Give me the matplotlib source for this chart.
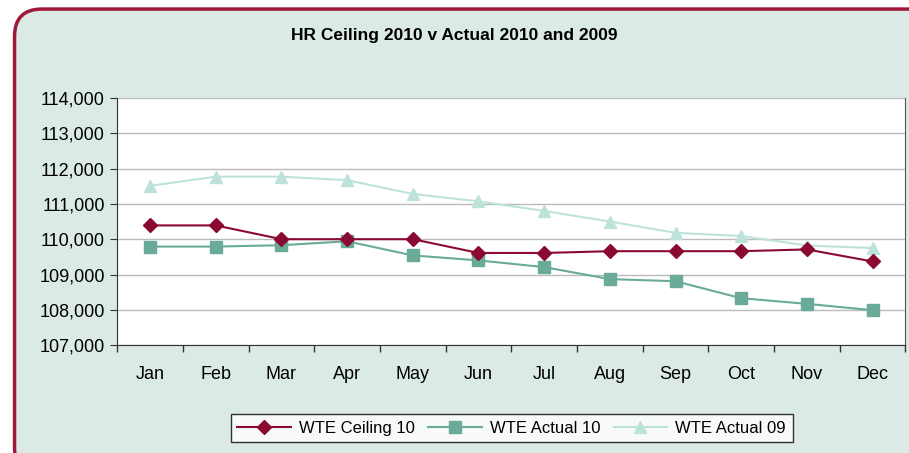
import matplotlib.pyplot as plt
from matplotlib.patches import FancyBboxPatch
from matplotlib.ticker import FuncFormatter, FixedLocator

plt.rcParams['font.family'] = ['Liberation Sans', 'DejaVu Sans']

months = ['Jan', 'Feb', 'Mar', 'Apr', 'May', 'Jun', 'Jul', 'Aug', 'Sep', 'Oct', 'Nov', 'Dec']
ceiling_10 = [110390, 110390, 110000, 110000, 110000, 109610, 109610, 109660, 109660, 109660, 109710, 109370]
actual_10 = [109790, 109790, 109830, 109940, 109540, 109400, 109210, 108870, 108810, 108330, 108170, 107990]
actual_09 = [111510, 111770, 111770, 111670, 111280, 111070, 110800, 110500, 110180, 110090, 109820, 109750]

bg = '#DBEAE5'
fig = plt.figure(figsize=(9.09, 4.53), dpi=100)
fig.patch.set_facecolor('white')

# rounded chart-area frame
frame = FancyBboxPatch((0.016, -0.05), 1.1, 1.03, boxstyle='round,pad=0,rounding_size=0.03',
                       transform=fig.transFigure, facecolor=bg, edgecolor='#A0173A',
                       linewidth=2.5, mutation_aspect=909 / 453, zorder=-10)
fig.patches.append(frame)

ax = fig.add_axes([0.129, 0.238, 0.867, 0.546])
ax.set_facecolor('white')
x = range(len(months))
ax.plot(x, ceiling_10, color='#8B0A32', marker='D', markersize=7, linewidth=1.5, label='WTE Ceiling 10', zorder=3)
ax.plot(x, actual_10, color='#6AAA98', marker='s', markersize=8, linewidth=1.5, label='WTE Actual 10', zorder=2)
ax.plot(x, actual_09, color='#BDE2DA', marker='^', markersize=9, linewidth=1.5, label='WTE Actual 09', zorder=1)

ax.set_xlim(-0.5, 11.5)
ax.set_ylim(107000, 114000)
ax.set_yticks(range(107000, 114001, 1000))
ax.yaxis.set_major_formatter(FuncFormatter(lambda v, p: f'{int(v):,}'))
ax.grid(axis='y', color='#BBBBBB', linewidth=1)
ax.set_axisbelow(True)

ax.set_xticks(list(x))
ax.set_xticklabels(months)
ax.xaxis.set_minor_locator(FixedLocator([i - 0.5 for i in range(13)]))
ax.tick_params(axis='x', which='major', length=0, pad=15, labelsize=13)
ax.tick_params(axis='x', which='minor', length=5, width=1, direction='out', color='#333333')
ax.tick_params(axis='y', length=5, direction='out', labelsize=13, pad=4, color='#333333')

for s in ['left', 'bottom']:
    ax.spines[s].set_color('#333333')
ax.spines['top'].set_visible(False)
ax.spines['right'].set_color('#555555')

fig.text(0.5, 0.922, 'HR Ceiling 2010 v Actual 2010 and 2009', ha='center', va='center',
         fontsize=12.5, fontweight='bold')

leg = fig.legend(loc='center', bbox_to_anchor=(0.563, 0.055), ncol=3, frameon=True,
                 fontsize=12, fancybox=False, edgecolor='black', handlelength=3.2,
                 columnspacing=0.8, handletextpad=0.5, borderpad=0.4)
leg.get_frame().set_linewidth(1)

fig.savefig('out.png', dpi=100)
